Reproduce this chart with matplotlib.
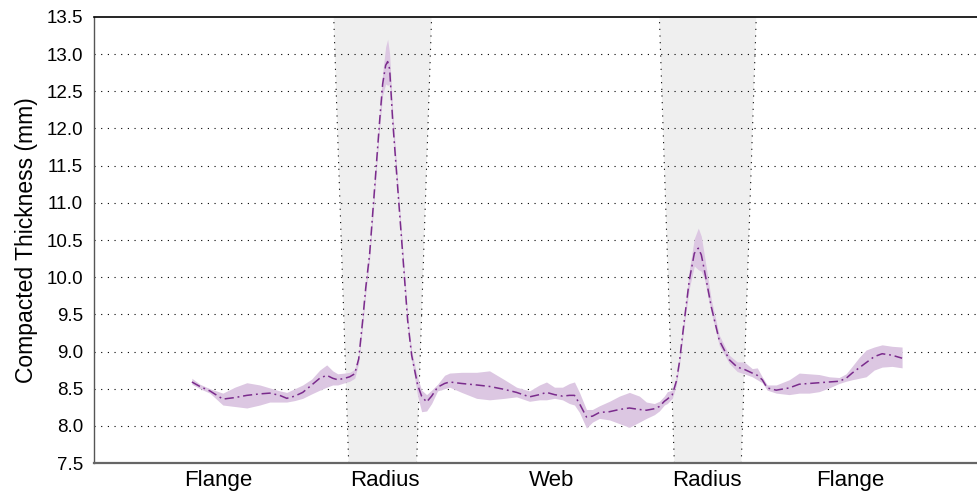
import matplotlib
matplotlib.use('Agg')
import matplotlib.pyplot as plt
import numpy as np

plt.rcParams['font.family'] = ['Liberation Sans', 'DejaVu Sans']

# position along the profile (mm) and compacted thickness statistics (mm)
position = [24.5, 26.5, 29, 32.25, 35.25, 38.25, 41.5, 44, 46.5, 48.25,
            50.25, 52.25, 54.5, 56.5, 58.25, 59.75, 61, 62.75, 64, 65.25,
            66.25, 67.25, 68, 69, 70.25, 71.5, 72.25, 73, 73.5, 74,
            74.75, 76, 77.25, 78.5, 79.5, 80.25, 81, 82, 83.25, 84.5,
            86, 87.75, 89, 92, 95.75, 99, 102.75, 105.75, 109, 111.5,
            113.25, 115.25, 117.25, 119, 120.25, 121.5, 123.25, 124.75, 126.5, 129,
            131.5, 134, 136.5, 138.25, 140.25, 141.5, 142.75, 143.5, 144.75, 145.75,
            146.5, 147.75, 149, 150.25, 151.25, 152, 152.75, 154.5, 156.5, 159,
            161, 162.75, 164.75, 166, 167.25, 168.5, 170.75, 174, 176.5, 179,
            181.5, 184, 186.5, 188.25, 189.75, 191.5, 193.25, 195.25, 197.25, 199.75,
            202.25]
mean_thk = [8.59, 8.53, 8.47, 8.36, 8.38, 8.41, 8.43, 8.44, 8.41, 8.37,
            8.40, 8.45, 8.55, 8.64, 8.68, 8.64, 8.62, 8.64, 8.66, 8.70,
            8.90, 9.42, 9.85, 10.32, 11.21, 12.11, 12.60, 12.85, 12.90, 12.80,
            12.11, 11.21, 10.32, 9.42, 8.95, 8.75, 8.55, 8.40, 8.32, 8.40,
            8.52, 8.57, 8.59, 8.57, 8.55, 8.53, 8.49, 8.45, 8.39, 8.42,
            8.45, 8.42, 8.40, 8.41, 8.41, 8.30, 8.12, 8.13, 8.18, 8.19,
            8.22, 8.24, 8.22, 8.21, 8.23, 8.26, 8.33, 8.36, 8.42, 8.60,
            8.85, 9.42, 9.96, 10.32, 10.39, 10.30, 10.10, 9.60, 9.15, 8.89,
            8.79, 8.76, 8.71, 8.68, 8.62, 8.51, 8.48, 8.51, 8.56, 8.57,
            8.58, 8.59, 8.60, 8.64, 8.71, 8.78, 8.85, 8.93, 8.97, 8.95,
            8.91]
lower_thk = [8.56, 8.50, 8.44, 8.28, 8.26, 8.24, 8.28, 8.32, 8.32, 8.32,
             8.34, 8.37, 8.43, 8.48, 8.52, 8.55, 8.55, 8.58, 8.60, 8.64,
             8.84, 9.35, 9.78, 10.25, 11.13, 12.02, 12.45, 12.60, 12.58, 12.60,
             12.00, 11.12, 10.24, 9.35, 8.88, 8.65, 8.40, 8.19, 8.20, 8.30,
             8.47, 8.50, 8.52, 8.45, 8.37, 8.35, 8.37, 8.39, 8.33, 8.35,
             8.35, 8.37, 8.35, 8.30, 8.28, 8.18, 7.97, 8.05, 8.10, 8.08,
             8.03, 7.98, 8.05, 8.10, 8.15, 8.20, 8.28, 8.30, 8.37, 8.55,
             8.80, 9.36, 9.85, 10.15, 10.10, 10.08, 9.98, 9.52, 9.08, 8.84,
             8.73, 8.70, 8.66, 8.62, 8.58, 8.48, 8.44, 8.42, 8.44, 8.44,
             8.46, 8.51, 8.57, 8.60, 8.62, 8.64, 8.66, 8.75, 8.79, 8.80,
             8.78]
upper_thk = [8.64, 8.56, 8.50, 8.44, 8.52, 8.58, 8.55, 8.51, 8.47, 8.45,
             8.50, 8.55, 8.63, 8.75, 8.82, 8.74, 8.70, 8.71, 8.72, 8.76,
             8.96, 9.49, 9.92, 10.40, 11.29, 12.20, 12.75, 13.10, 13.20, 13.00,
             12.25, 11.30, 10.40, 9.49, 9.02, 8.82, 8.65, 8.48, 8.42, 8.48,
             8.56, 8.68, 8.71, 8.72, 8.72, 8.74, 8.62, 8.52, 8.47, 8.55,
             8.59, 8.52, 8.52, 8.57, 8.59, 8.45, 8.22, 8.22, 8.27, 8.33,
             8.40, 8.45, 8.40, 8.32, 8.30, 8.33, 8.40, 8.46, 8.48, 8.66,
             8.91, 9.48, 10.10, 10.52, 10.66, 10.55, 10.30, 9.70, 9.22, 8.95,
             8.86, 8.86, 8.77, 8.78, 8.66, 8.55, 8.55, 8.62, 8.71, 8.70,
             8.69, 8.66, 8.65, 8.70, 8.80, 8.92, 9.02, 9.06, 9.09, 9.07,
             9.06]

# radius zones: (top-left, top-right, bottom-left, bottom-right)
radius_zones = [(60.0, 84.5, 63.75, 80.75),
                (141.5, 165.75, 145.25, 162.0)]

region_pos = [31, 72.75, 114.5, 153.5, 189.25]
region_labels = ['Flange', 'Radius', 'Web', 'Radius', 'Flange']

y_min, y_max = 7.5, 13.5

fig = plt.figure(figsize=(9.77, 4.91), dpi=100)
ax = fig.add_axes([0.0962, 0.057, 0.9038, 0.9084])

dots = (0, (1, 5))

for tl, tr, bl, br in radius_zones:
    ax.fill([bl, br, tr, tl], [y_min, y_min, y_max, y_max],
            color='#efefef', zorder=0, lw=0)
    ax.plot([bl, tl], [y_min, y_max], color='black', lw=0.8, ls=dots, zorder=1)
    ax.plot([br, tr], [y_min, y_max], color='black', lw=0.8, ls=dots, zorder=1)

for yv in np.arange(8.0, 13.01, 0.5):
    ax.axhline(yv, color='black', lw=0.8, ls=dots, zorder=1)

ax.fill_between(position, lower_thk, upper_thk, color='#dcc7e2', lw=0, zorder=2)
ax.plot(position, mean_thk, color='#7a2b8c', lw=1.1,
        dashes=(6, 2.5, 1.2, 2.5), zorder=3)

ax.set_xlim(0, 221)
ax.set_ylim(y_min, y_max)
ax.set_yticks(np.arange(7.5, 13.51, 0.5))
ax.set_yticklabels([f'{v:.1f}' for v in np.arange(7.5, 13.51, 0.5)])
ax.set_xticks(region_pos)
ax.set_xticklabels(region_labels)
ax.tick_params(axis='both', length=0, colors='black')
ax.tick_params(axis='y', pad=8, labelsize=13.5)
ax.tick_params(axis='x', pad=5, labelsize=16)
ax.set_ylabel('Compacted Thickness (mm)', fontsize=16.5, labelpad=6)

ax.spines['right'].set_visible(False)
ax.spines['top'].set_color('black')
ax.spines['top'].set_linewidth(1.2)
ax.spines['left'].set_color('#555555')
ax.spines['left'].set_linewidth(1.0)
ax.spines['bottom'].set_color('#666666')
ax.spines['bottom'].set_linewidth(1.6)
ax.spines['bottom'].set_linestyle((0, (1, 1)))

fig.savefig('out.png', dpi=100)
